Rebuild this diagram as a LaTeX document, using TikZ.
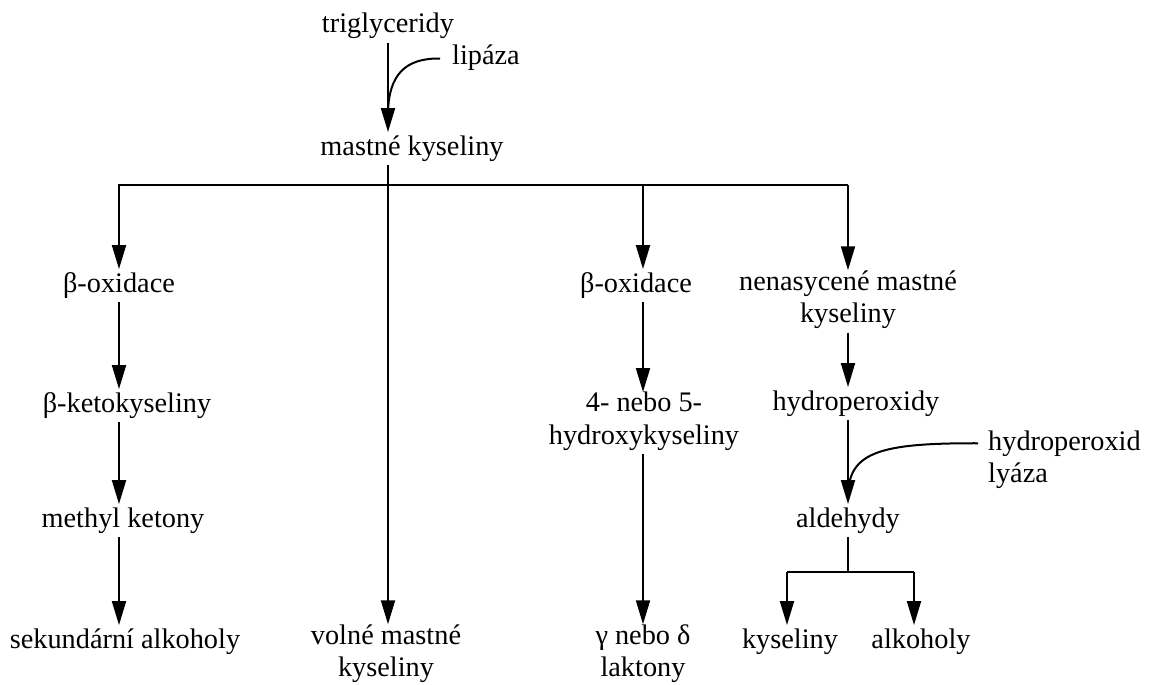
\documentclass[tikz,border=0pt]{standalone}
\usepackage{fontspec}
\setmainfont{Liberation Serif}
\usetikzlibrary{arrows.meta}
\begin{document}
\begin{tikzpicture}[x=1pt,y=-1pt,
  lbl/.style={inner sep=0pt, font=\fontsize{28.3}{32.5}\selectfont,
    execute at begin node=\strut, execute at end node=\strut},
  conn/.style={line width=2pt},
  arr/.style={line width=2pt, -{Triangle[length=24pt,width=14pt]}}]
\useasboundingbox[fill=white] (0,0) rectangle (1157,685);
% column coordinates
\coordinate (c1) at (119,0);
\coordinate (c2) at (388,0);
\coordinate (c3) at (643,0);
\coordinate (c4) at (848,0);
% nodes
\node[lbl, anchor=base] (trig) at (388,33) {triglyceridy};
\node[lbl, anchor=base west] (lip) at (452,65) {lipáza};
\node[lbl, anchor=base] (mk) at (412,155) {mastné kyseliny};
\node[lbl, anchor=base] (bo1) at (119,292) {β-oxidace};
\node[lbl, anchor=base] (bk) at (127,412) {β-ketokyseliny};
\node[lbl, anchor=base] (mkt) at (123,527) {methyl ketony};
\node[lbl, anchor=base] (sa) at (125,648) {sekundární alkoholy};
\node[lbl, anchor=north, align=center] (vmk) at (386,624.25) {volné mastné\\kyseliny};
\node[lbl, anchor=base] (bo2) at (636,292) {β-oxidace};
\node[lbl, anchor=north, align=center] (hk) at (644,392) {4- nebo 5-\\hydroxykyseliny};
\node[lbl, anchor=north, align=center] (gl) at (643,624.25) {γ nebo δ\\laktony};
\node[lbl, anchor=north, align=center] (nm) at (848,270.25) {nenasycené mastné\\kyseliny};
\node[lbl, anchor=base] (hp) at (856,410) {hydroperoxidy};
\node[lbl, anchor=base] (ald) at (848,527) {aldehydy};
\node[lbl, anchor=base] (kys) at (790,648) {kyseliny};
\node[lbl, anchor=base] (alk) at (921,648) {alkoholy};
\node[lbl, anchor=north west, align=left] (hl) at (988,430.25) {hydroperoxid\\lyáza};
% top
\draw[arr] (trig.south) -- (c2 |- mk.north);
\coordinate (lipS) at ([xshift=-12pt]lip.west);
\coordinate (lipE) at (388,112);
\draw[conn] (lipS) .. controls (405,58) and (389,75) .. (lipE);
% main split
\coordinate (jL) at (119,185);
\coordinate (jR) at (848,185);
\draw[arr] (jR) -| (c1 |- bo1.north);
\draw[arr] (jR) -- (c4 |- nm.north);
\draw[arr] (c3 |- jR) -- (c3 |- bo2.north);
\draw[arr] (c2 |- mk.south) -- (c2 |- vmk.north);
% left column
\draw[arr] (c1 |- bo1.south) -- (c1 |- bk.north);
\draw[arr] (c1 |- bk.south) -- (c1 |- mkt.north);
\draw[arr] (c1 |- mkt.south) -- (c1 |- sa.north);
% middle-right column
\draw[arr] (c3 |- bo2.south) -- (c3 |- hk.north);
\draw[arr] (c3 |- hk.south) -- (c3 |- gl.north);
% right column
\draw[arr] (c4 |- nm.south) -- (c4 |- hp.north);
\draw[arr] (c4 |- hp.south) -- (c4 |- ald.north);
\coordinate (hlS) at ([xshift=-10pt,yshift=-13pt]hl.north west);
\coordinate (hlE) at (848,495);
\draw[conn] (hlS) .. controls (880,443) and (849,452) .. (hlE);
\coordinate (sk) at (787,572);
\coordinate (sl) at (914,572);
\draw[conn] (c4 |- ald.south) -- (c4 |- sk);
\draw[conn] (sk) -- (sl);
\draw[arr] (sk) -- (sk |- kys.north);
\draw[arr] (sl) -- (sl |- alk.north);
\end{tikzpicture}
\end{document}
